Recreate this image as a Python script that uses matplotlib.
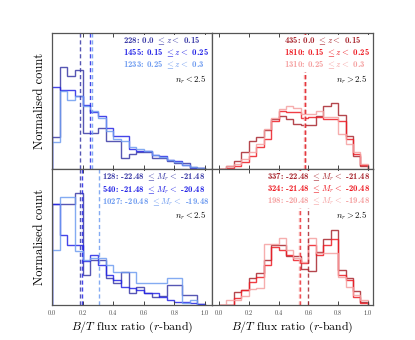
import matplotlib

matplotlib.use("Agg")
import matplotlib.pyplot as plt
from matplotlib.lines import Line2D
import numpy as np

plt.rcParams["font.family"] = ["cmr10", "DejaVu Serif"]
plt.rcParams["mathtext.fontset"] = "cm"
plt.rcParams["axes.formatter.use_mathtext"] = True

# bins in B/T
BIN_EDGES = np.linspace(0.0, 1.0, 21)

# top-left: n_r < 2.5, redshift bins
TL_COUNTS = [228, 1455, 1233]
Z_RANGES = ["0.0 $\\leq z <$ 0.15", "0.15 $\\leq z <$ 0.25", "0.25 $\\leq z <$ 0.3"]
TL_HIST = [
    [1.07, 3.37, 3.07, 3.27, 1.20, 1.20, 1.37, 0.93, 0.93, 0.37, 0.50, 0.57, 0.57, 0.37, 0.37, 0.27, 0.20, 0.20, 0.07, 0.02],
    [2.70, 2.63, 2.63, 2.40, 2.13, 1.90, 1.77, 1.37, 1.10, 1.10, 0.67, 0.60, 0.60, 0.47, 0.43, 0.30, 0.27, 0.13, 0.03, 0.02],
    [0.90, 2.57, 2.27, 2.40, 2.10, 1.93, 1.70, 1.27, 1.00, 0.93, 0.73, 0.67, 0.60, 0.47, 0.40, 0.30, 0.23, 0.13, 0.07, 0.02],
]
TL_MEDIAN = [0.18, 0.25, 0.26]

# top-right: n_r > 2.5, redshift bins
TR_COUNTS = [435, 1810, 1310]
TR_HIST = [
    [0.00, 0.10, 0.27, 0.57, 0.93, 1.07, 1.30, 1.67, 1.77, 1.67, 1.50, 1.47, 1.47, 1.77, 2.07, 2.17, 1.80, 1.10, 0.43, 0.10],
    [0.00, 0.03, 0.10, 0.23, 0.43, 0.73, 1.00, 1.60, 1.93, 1.90, 1.90, 1.70, 1.73, 1.73, 1.67, 1.67, 1.60, 1.00, 0.50, 0.13],
    [0.00, 0.10, 0.17, 0.33, 0.57, 0.83, 1.33, 1.70, 2.00, 2.07, 2.03, 1.83, 1.83, 1.93, 1.73, 1.73, 1.17, 0.83, 0.57, 0.17],
]
TR_MEDIAN = [0.58, 0.575, 0.57]

# bottom-left: n_r < 2.5, magnitude bins
BL_COUNTS = [128, 540, 1027]
MAG_RANGES = [
    "-22.48 $\\leq M_r <$ -21.48",
    "-21.48 $\\leq M_r <$ -20.48",
    "-20.48 $\\leq M_r <$ -19.48",
]
BL_HIST = [
    [3.33, 3.33, 3.33, 3.70, 1.00, 1.50, 1.50, 0.90, 0.73, 1.10, 0.40, 0.60, 0.40, 0.27, 0.30, 0.67, 0.67, 0.33, 0.33, 0.03],
    [3.33, 2.30, 2.00, 2.00, 1.47, 1.67, 1.33, 1.00, 0.83, 0.60, 0.57, 0.50, 0.40, 0.40, 0.27, 0.17, 0.10, 0.10, 0.07, 0.03],
    [1.83, 3.57, 3.57, 1.80, 1.50, 1.57, 1.57, 1.33, 1.10, 1.10, 1.10, 0.73, 0.73, 0.73, 0.73, 0.90, 0.90, 0.07, 0.17, 0.00],
]
BL_MEDIAN = [0.18, 0.195, 0.31]

# bottom-right: n_r > 2.5, magnitude bins
BR_COUNTS = [337, 324, 198]
BR_HIST = [
    [0.00, 0.00, 0.43, 0.50, 0.90, 1.07, 1.50, 2.00, 2.00, 1.63, 1.63, 1.20, 1.13, 1.77, 2.20, 2.47, 1.17, 0.90, 0.47, 0.10],
    [0.00, 0.00, 0.23, 0.50, 0.77, 0.93, 1.33, 1.93, 1.83, 1.67, 1.50, 1.40, 2.00, 1.67, 2.00, 2.17, 1.00, 0.83, 0.27, 0.07],
    [0.00, 0.17, 0.17, 0.30, 0.53, 0.57, 2.03, 2.03, 2.23, 1.83, 1.57, 1.43, 2.23, 1.73, 1.73, 1.73, 0.93, 0.60, 0.33, 0.17],
]
BR_MEDIAN = [0.595, 0.545, 0.535]

BLUES = ["#3a3aa6", "#2424e6", "#6f9cf0"]
REDS = ["#a8262e", "#ee1c24", "#f5a0a0"]


def draw_panel(ax, hists, medians, counts, ranges, colors, sersic_text, xlim, show_xlabels, fs):
    for vals, med, col in zip(hists, medians, colors):
        ax.stairs(vals, BIN_EDGES, color=col, lw=1.0, alpha=0.85)
        ax.axvline(med, color=col, lw=1.0, ls=(0, (3, 2)), alpha=0.85)

    handles = [Line2D([], [], lw=0) for _ in counts]
    labels = [f"{n}: {r}" for n, r in zip(counts, ranges)]
    leg = ax.legend(handles, labels, loc="upper right",
                    prop={"family": "cmb10", "size": fs},
                    handlelength=0, handletextpad=0, labelspacing=0.1,
                    borderpad=0.1, borderaxespad=0.2, frameon=True,
                    fancybox=False, labelcolor=colors)
    leg.get_frame().set_edgecolor("none")
    leg.get_frame().set_facecolor("white")
    leg.get_frame().set_alpha(1.0)
    leg.set_zorder(5)

    t = ax.text(0.965, 0.655, sersic_text, transform=ax.transAxes, ha="right",
                va="center", fontsize=6.3, color="black")
    t.set_zorder(6)

    ax.set_xlim(*xlim)
    ax.set_ylim(0, 4.5)
    ax.set_yticks([])
    ax.set_xticks([0.0, 0.2, 0.4, 0.6, 0.8, 1.0])
    ax.tick_params(axis="x", direction="in", top=True, bottom=True,
                   length=3, width=0.7, labelsize=4.5, pad=2, colors="#444444")
    if not show_xlabels:
        ax.tick_params(axis="x", labelbottom=False)
    else:
        ax.set_xlabel("$B/T$ flux ratio ($r$-band)", fontsize=8.5, labelpad=2)
    for sp in ax.spines.values():
        sp.set_color("#555555")
        sp.set_linewidth(0.9)


fig = plt.figure(figsize=(4.15, 3.4), dpi=100)
W = 160 / 415
H = 136 / 340
L = 52 / 415
ax_tl = fig.add_axes([L, 1 - 169 / 340, W, H])
ax_tr = fig.add_axes([L + W, 1 - 169 / 340, 161 / 415, H])
ax_bl = fig.add_axes([L, 1 - 305 / 340, W, H])
ax_br = fig.add_axes([L + W, 1 - 305 / 340, 161 / 415, H])

left_lim = (0.0, 1.045)
right_lim = (-0.047, 1.034)

draw_panel(ax_tl, TL_HIST, TL_MEDIAN, TL_COUNTS, Z_RANGES, BLUES, "$n_r < 2.5$", left_lim, False, 6.4)
draw_panel(ax_tr, TR_HIST, TR_MEDIAN, TR_COUNTS, Z_RANGES, REDS, "$n_r > 2.5$", right_lim, False, 6.4)
draw_panel(ax_bl, BL_HIST, BL_MEDIAN, BL_COUNTS, MAG_RANGES, BLUES, "$n_r < 2.5$", left_lim, True, 6.3)
draw_panel(ax_br, BR_HIST, BR_MEDIAN, BR_COUNTS, MAG_RANGES, REDS, "$n_r > 2.5$", right_lim, True, 6.3)

ax_tl.set_ylabel("Normalised count", fontsize=9, labelpad=4)
ax_bl.set_ylabel("Normalised count", fontsize=9, labelpad=4)

fig.savefig("out.png", dpi=100)
